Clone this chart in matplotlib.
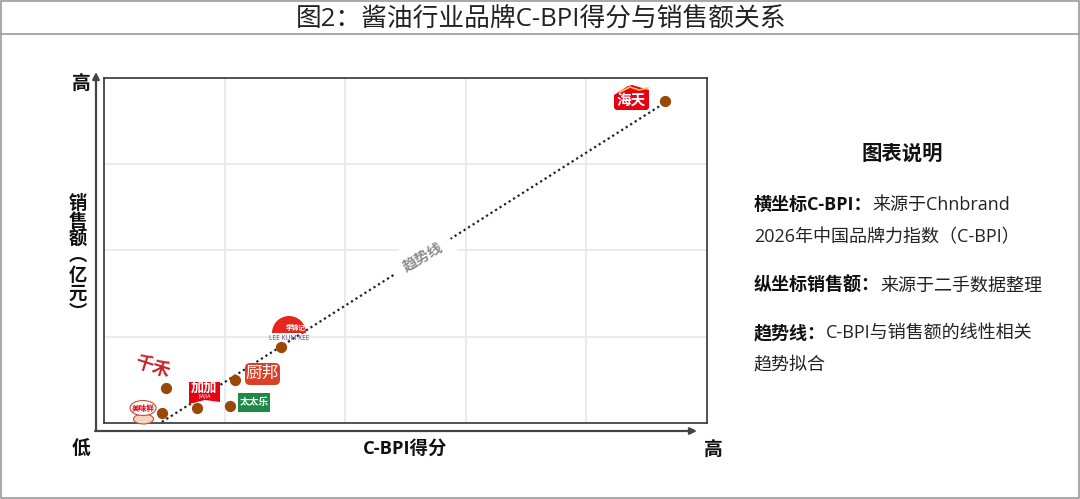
import matplotlib
matplotlib.use("Agg")
import matplotlib.pyplot as plt
from matplotlib.patches import Rectangle, FancyBboxPatch, Wedge, Ellipse, Polygon

plt.rcParams['font.family'] = ['Open Sans', 'Noto Sans CJK SC', 'DejaVu Sans']

W, H = 1080, 499

# brand points, 0-100 on both relative axes
brands = ['美味鲜', '千禾', '加加', '太太乐', '厨邦', '李锦记', '海天']
cbpi = [9.6, 10.3, 15.4, 20.9, 21.7, 29.4, 93.0]
sales = [2.9, 10.1, 4.3, 4.9, 12.5, 22.0, 93.3]

trend_x = [9.6, 93.0]
trend_y = [0.3, 92.8]

notes = [
    ('横坐标C-BPI：', '来源于Chnbrand', 205),
    ('', '2026年中国品牌力指数（C-BPI）', 237),
    ('纵坐标销售额：', '来源于二手数据整理', 286),
    ('趋势线：', 'C-BPI与销售额的线性相关', 333),
    ('', '趋势拟合', 365),
]

fig = plt.figure(figsize=(W / 100, H / 100), dpi=100)

# overlay in pixel coordinates for the frame, axis arrows, text and logos
bg = fig.add_axes([0, 0, 1, 1])
bg.set_xlim(0, W)
bg.set_ylim(H, 0)
bg.axis('off')
bg.add_patch(Rectangle((1, 0.5), W - 2, H - 2, fill=False, ec='#9a9a9a', lw=1.2))
bg.plot([1, W - 1], [34, 34], color='#9a9a9a', lw=1.2)
bg.text(541, 20.5, '图2：酱油行业品牌C-BPI得分与销售额关系', ha='center', va='center',
        fontsize=18.5, color='#222222')

ax = fig.add_axes([104 / W, 1 - 423 / H, 603 / W, 345 / H])
ax.set_xlim(0, 100)
ax.set_ylim(0, 100)
ax.set_xticks([20, 40, 60, 80])
ax.set_yticks([25, 50, 75])
ax.tick_params(length=0, labelbottom=False, labelleft=False)
ax.grid(color='#e8e8e8', lw=1.2)
ax.set_axisbelow(True)
for s in ax.spines.values():
    s.set_color('#333333')
    s.set_linewidth(1.2)
ax.plot(trend_x, trend_y, color='#222222', lw=1.6, ls=(0, (1, 1.4)), zorder=2)
ax.scatter(cbpi, sales, s=50, color='#984807', zorder=4, clip_on=False)

top = fig.add_axes([0, 0, 1, 1])
top.set_xlim(0, W)
top.set_ylim(H, 0)
top.axis('off')

# axis arrows
top.annotate('', xy=(96, 72), xytext=(96, 431), arrowprops=dict(arrowstyle='-|>', color='#444444', lw=1.6, shrinkA=0, shrinkB=0))
top.annotate('', xy=(697, 431), xytext=(95, 431), arrowprops=dict(arrowstyle='-|>', color='#444444', lw=1.6, shrinkA=0, shrinkB=0))

bold = dict(fontweight='bold', color='#111111', ha='center', va='center')
top.text(81, 84, '高', fontsize=13.5, **bold)
top.text(81, 450, '低', fontsize=13.5, **bold)
top.text(713, 450, '高', fontsize=13.5, **bold)
top.text(405, 449, 'C-BPI得分', fontsize=13.2, **bold)
for ch, y in zip(['销', '售', '额', '︵', '亿', '元', '︶'], [204, 222, 240, 256, 276, 294, 313]):
    top.text(78, y, ch, fontsize=13.2, **bold)

# trendline tag
top.text(423, 257, '趋势线', fontsize=10.5, fontweight='bold', color='#8c8c8c', ha='center', va='center',
         rotation=30, bbox=dict(fc='white', ec='none', pad=8))

# side notes
top.text(902, 155, '图表说明', fontsize=14.7, **bold)
for head, body, y in notes:
    x = 754
    if head:
        t = top.text(x, y, head, fontsize=13, fontweight='bold', color='#111111', va='center')
        fig.canvas.draw()
        x = top.transData.inverted().transform(t.get_window_extent().get_points())[1][0]
    top.text(x, y, body, fontsize=13, color='#222222', va='center')

# logos rebuilt from simple shapes with their text
RED = '#e60012'
# 海天
top.add_patch(Polygon([(614, 95), (628, 86), (632, 85), (649, 90), (649, 108), (647, 110), (616, 110), (614, 108)],
                      fc=RED, ec='none'))
top.plot([620, 630, 639, 648], [92, 87, 90, 88], color='#f6c945', lw=1.2)
top.text(631.5, 101, '海天', fontsize=10.5, fontweight='bold', color='white', ha='center', va='center')
# 李锦记
top.add_patch(Wedge((289, 333), 17, 180, 360, fc='#e5261f', ec='none'))
top.text(296, 328.5, '李锦记', fontsize=4.8, fontweight='bold', color='white', ha='center', va='center')
top.text(289, 338, 'LEE KUM KEE', fontsize=4.8, color='#6a3d8a', ha='center', va='center')
# 厨邦
top.add_patch(FancyBboxPatch((245, 363), 35, 22, boxstyle='round,pad=0,rounding_size=5', fc='#d9402a', ec='none'))
top.text(262.5, 374, '厨邦', fontsize=12, color='white', ha='center', va='center')
# 太太乐
top.add_patch(Rectangle((238, 393), 32, 19, fc='#1f8a45', ec='none'))
top.text(254, 402.5, '太太乐', fontsize=7, color='white', fontweight='bold', ha='center', va='center')
# 加加
top.add_patch(Polygon([(189, 382), (220, 382), (220, 402), (205, 400), (189, 404)], fc=RED, ec='none'))
top.text(204.5, 388.5, '加加', fontsize=9.5, fontweight='bold', color='white', ha='center', va='center')
top.text(204.5, 396, 'JIAJIA', fontsize=3.8, color='white', ha='center', va='center')
# 千禾
top.text(152, 367, '千禾', fontsize=13, fontweight='bold', color='#c1272d', ha='center', va='center', rotation=-18)
# 美味鲜
top.add_patch(Ellipse((143.5, 419), 20, 10, fc='#f4d3bf', ec='#c0503a', lw=0.8))
top.add_patch(Ellipse((143, 408), 26, 15, fc='white', ec='#c0503a', lw=0.8))
top.text(143, 408, '美味鲜', fontsize=5.5, fontweight='bold', color=RED, ha='center', va='center')

fig.savefig('out.png', dpi=100)
